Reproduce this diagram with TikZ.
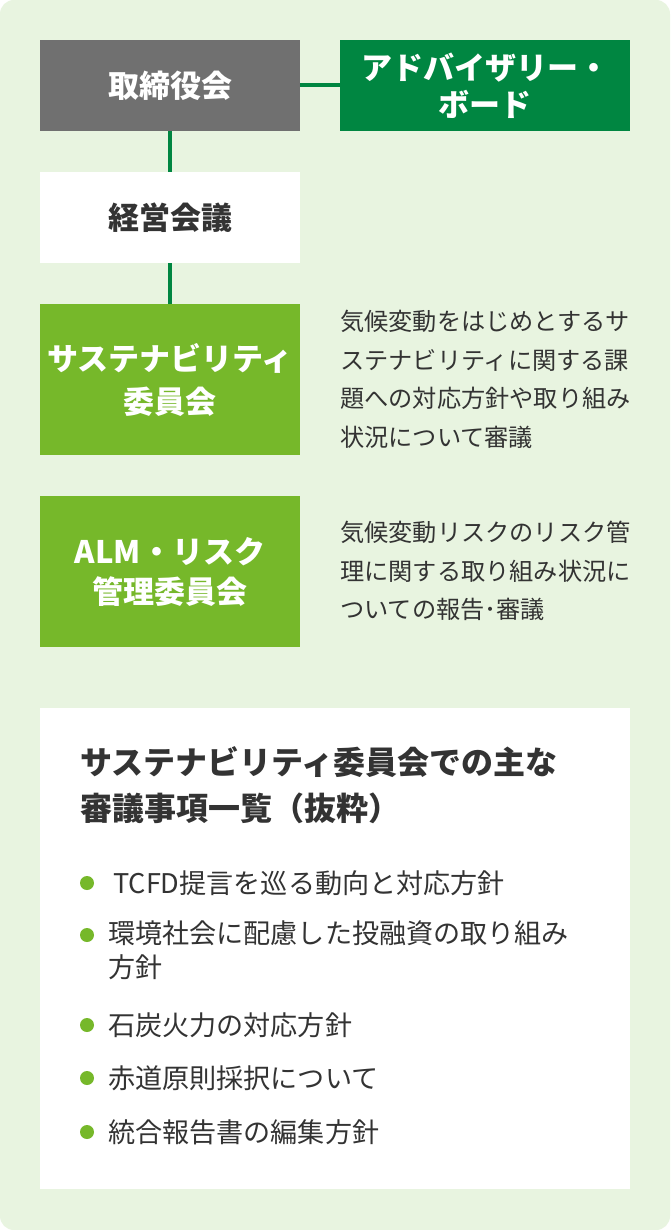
\documentclass[tikz,border=0pt]{standalone}
\usepackage{fontspec}
\setmainfont{Noto Sans CJK JP}
\usetikzlibrary{positioning}
\definecolor{panel green}{HTML}{E8F4E0}
\definecolor{line green}{HTML}{008641}
\definecolor{lime green}{HTML}{76B82A}
\definecolor{board grey}{HTML}{707070}
\definecolor{ink}{HTML}{333333}
\tikzset{wire/.style={line width=4pt, draw=line green}}
\tikzset{orgbox/.style={rectangle, inner sep=0pt, minimum width=260pt, minimum height=91pt, text=white, align=center, font=\fontsize{31}{40}\selectfont\bfseries}}
\tikzset{note/.style={anchor=north west, inner sep=0pt, align=left, text=ink, font=\fontsize{24.2}{38.5}\selectfont}}
\tikzset{item/.style={anchor=west, inner sep=0pt, align=left, text=ink, font=\fontsize{27.1}{34}\selectfont}}
\tikzset{dot/.style={circle, fill=lime green, inner sep=0pt, minimum size=14pt}}

\begin{document}
\begin{tikzpicture}[x=1pt, y=-1pt]
    \useasboundingbox (0, 0) rectangle (670, 1230);
    \fill[white] (0, 0) rectangle (670, 1230);
    \fill[panel green, rounded corners=14pt] (0, 0) rectangle (670, 1230);

    \node[orgbox, fill=board grey] (board) at (170, 85.5) {取締役会};
    \node[orgbox, fill=line green, minimum width=290pt, font=\fontsize{31}{37}\selectfont\bfseries] (advisory) at (485, 85.5) {アドバイザリー・\\ボード};
    \node[orgbox, fill=white, text=ink] (mgmt) at (170, 217.5) {経営会議};
    \node[orgbox, fill=lime green, minimum height=151pt, font=\fontsize{31}{43}\selectfont\bfseries] (sust) at (170, 379.5) {サステナビリティ\\委員会};
    \node[orgbox, fill=lime green, minimum height=151pt] (alm) at (170, 571.5) {ALM・リスク\\管理委員会};

    \draw[wire] (board) -- (advisory);
    \draw[wire] (board) -- (mgmt);
    \draw[wire] (mgmt) -- (sust);

    \node[note] (sustnote) at (340, 310) {気候変動をはじめとするサ\\ステナビリティに関する課\\題への対応方針や取り組み\\状況について審議};
    \node[note] (almnote) at (340, 521) {気候変動リスクのリスク管\\理に関する取り組み状況に\\ついての報告･審議};

    \node[rectangle, fill=white, inner sep=0pt, minimum width=590pt, minimum height=481pt] (agenda) at (335, 948.5) {};
    \node[note, text=ink, font=\fontsize{32}{46}\selectfont\bfseries] (title) at (80, 746) {サステナビリティ委員会での主な\\審議事項一覧（抜粋）};

    \node[dot] (d1) at (87, 883) {};
    \node[item] (i1) at (113, 883) {TCFD提言を巡る動向と対応方針};
    \node[dot] (d2) at (87, 935) {};
    \node[item, anchor=north west] (i2) at (108, 921) {環境社会に配慮した投融資の取り組み\\方針};
    \node[dot] (d3) at (87, 1025) {};
    \node[item] (i3) at (108, 1025) {石炭火力の対応方針};
    \node[dot] (d4) at (87, 1078) {};
    \node[item] (i4) at (108, 1078) {赤道原則採択について};
    \node[dot] (d5) at (87, 1132) {};
    \node[item] (i5) at (108, 1132) {統合報告書の編集方針};
\end{tikzpicture}
\end{document}
